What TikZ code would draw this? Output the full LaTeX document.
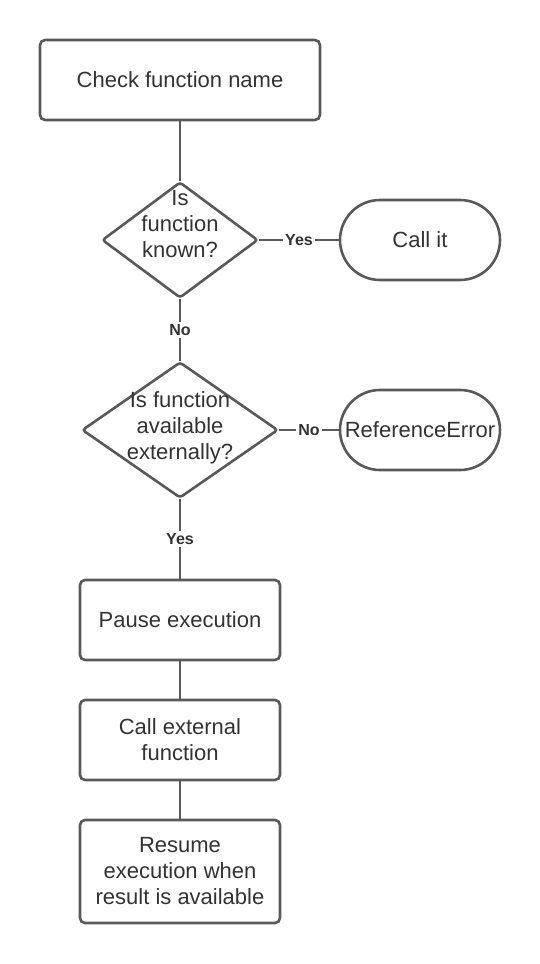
\documentclass[tikz,border=0pt]{standalone}
\usepackage{fontspec}
\setmainfont{Liberation Sans}
\usetikzlibrary{positioning}
\usetikzlibrary{shapes}

\definecolor{linegray}{HTML}{595959}
\definecolor{textgray}{HTML}{333333}

\tikzset{
	box/.style={draw=linegray, line width=2.6pt, rounded corners=5pt, text=textgray, align=center, inner sep=0pt, font=\fontsize{22}{26}\selectfont},
	term/.style={draw=linegray, line width=2.6pt, rounded corners=40pt, minimum width=160pt, minimum height=80pt, text=textgray, inner sep=0pt, font=\fontsize{22}{26}\selectfont},
	decision/.style={draw=linegray, line width=2.6pt, diamond, rounded corners=3pt, inner sep=0pt},
	dtext/.style={text=textgray, align=center, inner sep=0pt, font=\fontsize{22}{26}\selectfont},
	link/.style={draw=linegray, line width=2.6pt},
	answer/.style={fill=white, text=textgray, inner sep=2pt, font=\fontsize{16}{18}\bfseries\selectfont}
}

\begin{document}
\begin{tikzpicture}[x=1pt,y=-1pt]
\useasboundingbox (0,0) rectangle (540,964);

%boxes
\node[box, minimum width=280pt, minimum height=80pt] (check) at (180,80) {Check function name};
\node[decision, minimum width=156pt, minimum height=116pt] (known) at (180,240) {};
\node[dtext] (knowntext) at (180,224) {Is\\function\\known?};
\node[term] (callit) at (420,240) {Call it};
\node[decision, minimum width=196pt, minimum height=136pt] (avail) at (180,430) {};
\node[dtext] (availtext) at (180,428) {Is function\\available\\externally?};
\node[term] (referr) at (420,430) {ReferenceError};
\node[box, minimum width=200pt, minimum height=80pt] (pause) at (180,620) {Pause execution};
\node[box, minimum width=200pt, minimum height=80pt] (callext) at (180,740) {Call external\\function};
\node[box, minimum width=200pt, minimum height=103pt] (resume) at (180,871.5) {Resume\\execution when\\result is available};

%links
\draw[link] (check) -- (known);
\draw[link] (known) -- node[answer] {Yes} (callit);
\draw[link] (known) -- node[answer] {No} (avail);
\draw[link] (avail) -- node[answer] {No} (referr);
\draw[link] (avail) -- node[answer] {Yes} (pause);
\draw[link] (pause) -- (callext);
\draw[link] (callext) -- (resume);

\end{tikzpicture}
\end{document}
